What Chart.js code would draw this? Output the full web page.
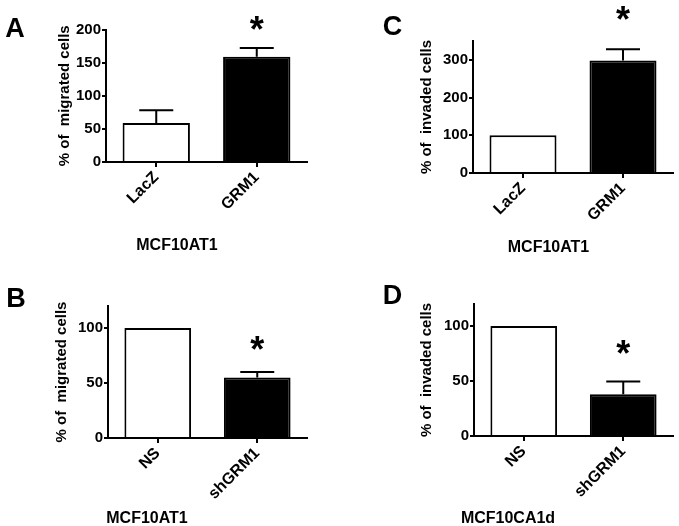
<!DOCTYPE html>
<html>
<head>
<meta charset="utf-8">
<script src="https://cdn.jsdelivr.net/npm/chart.js@4.4.1/dist/chart.umd.min.js"></script>
<style>
    html, body { margin: 0; padding: 0; background: #fff; }
    #page { position: relative; width: 679px; height: 526px; overflow: hidden; }
    .panel { position: absolute; height: 263px; }
</style>
</head>
<body>
<div id="page">
    <div class="panel" style="left:0;top:0;width:340px"><canvas id="panelA"></canvas></div>
    <div class="panel" style="left:340px;top:0;width:339px"><canvas id="panelC"></canvas></div>
    <div class="panel" style="left:0;top:263px;width:340px"><canvas id="panelB"></canvas></div>
    <div class="panel" style="left:340px;top:263px;width:339px"><canvas id="panelD"></canvas></div>
</div>
<script>
// values (% of control, bar + upper SEM)
const overexpressLabels = ["LacZ", "GRM1"];
const migratedValues = [59, 159];
const migratedErrors = [19, 13];
const invadedValues = [100, 298];
const invadedErrors = [0, 30];

const knockdownLabels = ["NS", "shGRM1"];
const kdMigratedValues = [100, 55];
const kdMigratedErrors = [0, 5];
const kdInvadedValues = [100, 38];
const kdInvadedErrors = [0, 11.5];

const significant = [false, true];

const migratedTicks = [0, 50, 100, 150, 200];
const invadedTicks = [0, 100, 200, 300];
const knockdownTicks = [0, 50, 100];

const FONT = "'Liberation Sans', Arial, Helvetica, sans-serif";
Chart.defaults.font.family = FONT;
Chart.defaults.color = "#000";

function drawCentered(ctx, text, x, y, font) {
    ctx.font = font;
    ctx.textAlign = "center";
    ctx.textBaseline = "alphabetic";
    const m = ctx.measureText(text);
    ctx.fillText(text, x, y + (m.actualBoundingBoxAscent - m.actualBoundingBoxDescent) / 2);
}

const panelDecor = {
    id: "panelDecor",
    afterDatasetsDraw(chart, args, opts) {
        const ctx = chart.ctx;
        const yScale = chart.scales.y;
        const meta = chart.getDatasetMeta(0);
        const values = chart.data.datasets[0].data;
        ctx.save();
        ctx.strokeStyle = "#000";
        ctx.fillStyle = "#000";
        ctx.lineWidth = 2;
        meta.data.forEach((bar, i) => {
            const err = opts.errors[i];
            const top = yScale.getPixelForValue(values[i] + err);
            if (err > 0) {
                ctx.beginPath();
                ctx.moveTo(bar.x, bar.y);
                ctx.lineTo(bar.x, top);
                ctx.moveTo(bar.x - 17, top);
                ctx.lineTo(bar.x + 17, top);
                ctx.stroke();
            }
            if (opts.stars[i]) {
                drawCentered(ctx, "*", bar.x, top - opts.starGap, "bold 36px " + FONT);
            }
        });
        ctx.restore();
    },
    afterDraw(chart, args, opts) {
        const ctx = chart.ctx;
        ctx.save();
        ctx.fillStyle = "#000";
        drawCentered(ctx, opts.letter, opts.letterX, opts.letterY, "bold 27px " + FONT);
        drawCentered(ctx, opts.cellLine, opts.cellX, opts.cellY, "bold 16px " + FONT);
        ctx.restore();
    },
};

function makePanel(id, cfg) {
    const axisLine = { display: true, width: 2, color: "#000" };
    return new Chart(document.getElementById(id), {
        type: "bar",
        data: {
            labels: cfg.labels,
            datasets: [{
                data: cfg.values,
                backgroundColor: ["#ffffff", "#000000"],
                borderColor: "#000",
                borderWidth: 2,
                barPercentage: 0.67,
                categoryPercentage: 1,
            }],
        },
        options: {
            responsive: true,
            maintainAspectRatio: false,
            animation: false,
            layout: { padding: { left: cfg.padLeft, right: cfg.padRight, top: cfg.padTop, bottom: 0 } },
            plugins: {
                legend: { display: false },
                tooltip: { enabled: false },
                panelDecor: {
                    errors: cfg.errors,
                    stars: significant,
                    starGap: cfg.starGap,
                    letter: cfg.letter,
                    letterX: cfg.letterX,
                    letterY: cfg.letterY,
                    cellLine: cfg.cellLine,
                    cellX: cfg.cellX,
                    cellY: cfg.cellY,
                },
            },
            scales: {
                x: {
                    grid: { display: true, drawOnChartArea: false, offset: false, tickLength: 5, lineWidth: 2, color: "#000" },
                    border: axisLine,
                    ticks: {
                        color: "#000",
                        font: { size: 16, weight: "bold" },
                        minRotation: 45,
                        maxRotation: 45,
                        autoSkip: false,
                        padding: 1,
                    },
                    afterFit: (s) => { s.height = cfg.xHeight; },
                },
                y: {
                    min: 0,
                    max: cfg.max,
                    grid: { display: true, drawOnChartArea: false, tickLength: 4, lineWidth: 2, color: "#000" },
                    border: axisLine,
                    ticks: { color: "#000", font: { size: 15, weight: "bold" }, padding: 1 },
                    afterBuildTicks: (s) => { s.ticks = cfg.ticks.map((v) => ({ value: v })); },
                    afterFit: (s) => { s.width = cfg.yWidth; },
                    title: {
                        display: true,
                        text: cfg.yTitle,
                        color: "#000",
                        font: { size: 15, weight: "bold" },
                        padding: 0,
                    },
                },
            },
        },
        plugins: [panelDecor],
    });
}

makePanel("panelA", {
    labels: overexpressLabels, values: migratedValues, errors: migratedErrors,
    ticks: migratedTicks, max: 200, yTitle: "% of  migrated cells",
    padLeft: 56, yWidth: 50, padRight: 33, padTop: 29.5, xHeight: 101,
    starGap: 25, letter: "A", letterX: 15, letterY: 27.5,
    cellLine: "MCF10AT1", cellX: 177, cellY: 243.5,
});

makePanel("panelC", {
    labels: overexpressLabels, values: invadedValues, errors: invadedErrors,
    ticks: invadedTicks, max: 350, yTitle: "% of  invaded cells",
    padLeft: 78, yWidth: 55, padRight: 6, padTop: 41, xHeight: 90,
    starGap: 36, letter: "C", letterX: 52.5, letterY: 25,
    cellLine: "MCF10AT1", cellX: 208.5, cellY: 245.5,
});

makePanel("panelB", {
    labels: knockdownLabels, values: kdMigratedValues, errors: kdMigratedErrors,
    ticks: knockdownTicks, max: 120, yTitle: "% of  migrated cells",
    padLeft: 53, yWidth: 55, padRight: 33, padTop: 43, xHeight: 88,
    starGap: 29, letter: "B", letterX: 16, letterY: 34,
    cellLine: "MCF10AT1", cellX: 147, cellY: 254,
});

makePanel("panelD", {
    labels: knockdownLabels, values: kdInvadedValues, errors: kdInvadedErrors,
    ticks: knockdownTicks, max: 120, yTitle: "% of  invaded cells",
    padLeft: 78, yWidth: 56, padRight: 6, padTop: 41, xHeight: 90,
    starGap: 35, letter: "D", letterX: 52.5, letterY: 31,
    cellLine: "MCF10CA1d", cellX: 168, cellY: 254,
});
</script>
</body>
</html>
